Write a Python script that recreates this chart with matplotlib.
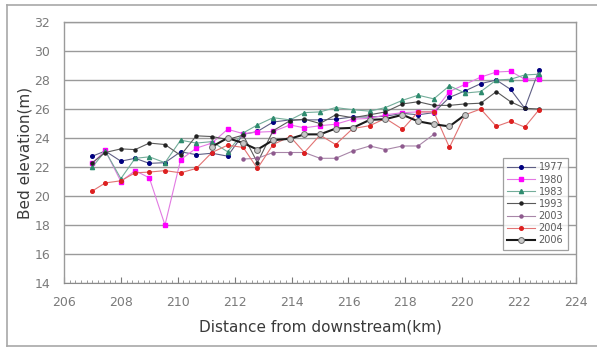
import matplotlib
matplotlib.use("Agg")
import matplotlib.pyplot as plt
from matplotlib.ticker import MultipleLocator
from matplotlib.lines import Line2D

# Survey stations (km from downstream)
km = [207.0, 207.45, 208.0, 208.5, 209.0, 209.55, 210.1, 210.65, 211.2, 211.75,
      212.3, 212.8, 213.35, 213.95, 214.45, 215.0, 215.55, 216.15, 216.75, 217.3,
      217.9, 218.45, 219.0, 219.55, 220.1, 220.65, 221.2, 221.7, 222.2, 222.7]

# Bed elevation (m) per survey year
bed_1977 = [22.75, 23.1, 22.4, 22.6, 22.25, 22.3, 23.05, 22.85, 22.95, 22.75,
            24.25, 24.45, 25.1, 25.25, 25.25, 25.25, 25.3, 25.45, 25.45, 25.5,
            25.7, 25.6, 25.75, 26.8, 27.25, 27.75, 28.0, 27.35, 26.05, 28.7]
bed_1980 = [22.25, 23.15, 21.0, 21.75, 21.25, 18.0, 22.5, 23.3, 23.65, 24.6,
            24.3, 24.4, 24.45, 24.9, 24.7, 24.85, 24.95, 25.3, 25.35, 25.6,
            25.75, 25.8, 25.8, 27.2, 27.7, 28.2, 28.55, 28.6, 28.05, 28.1]
bed_1983 = [22.0, 23.1, 21.2, 22.6, 22.7, 22.3, 23.85, 23.65, 23.75, 23.05,
            24.35, 24.9, 25.4, 25.25, 25.75, 25.8, 26.1, 25.95, 25.85, 26.1,
            26.6, 26.95, 26.7, 27.6, 27.1, 27.2, 28.0, 28.05, 28.35, 28.4]
bed_1993 = [22.3, 23.0, 23.25, 23.2, 23.65, 23.55, 22.8, 24.15, 24.1, 23.9,
            24.2, 22.3, 24.5, 25.2, 25.3, 25.0, 25.6, 25.4, 25.6, 25.8,
            26.35, 26.5, 26.25, 26.25, 26.35, 26.4, 27.2, 26.5, 26.05, 26.0]
bed_2003 = [None, None, None, None, None, None, None, None, None, None,
            22.55, 22.6, 23.0, 23.0, 23.0, 22.6, 22.6, 23.1, 23.45, 23.2,
            23.45, 23.45, 24.25, None, None, None, None, None, None, None]
bed_2004 = [20.35, 20.9, 21.05, 21.6, 21.65, 21.75, 21.6, 21.9, 23.0, 23.5,
            23.35, 21.9, 23.55, 24.1, 23.0, 24.2, 23.55, 24.65, 24.85, 25.35,
            24.6, 25.8, 25.8, 23.35, 25.6, 26.0, 24.8, 25.15, 24.75, 25.95]
bed_2006 = [None, None, None, None, None, None, None, None, 23.4, 24.0,
            23.65, 23.2, 23.85, 23.95, 24.25, 24.25, 24.65, 24.7, 25.25, 25.3,
            25.6, 25.15, 24.95, 24.8, 25.6, None, None, None, None, None]

years = ["1977", "1980", "1983", "1993", "2003", "2004", "2006"]
series = [bed_1977, bed_1980, bed_1983, bed_1993, bed_2003, bed_2004, bed_2006]

styles = {
    "1977": dict(color="#5f5f85", lw=0.8, marker="o", ms=2.6, mfc="#000080", mec="#000080"),
    "1980": dict(color="#e27ae2", lw=0.8, marker="s", ms=3.0, mfc="#ff00ff", mec="#ff00ff"),
    "1983": dict(color="#74ad9a", lw=0.8, marker="^", ms=3.0, mfc="#2e8b6e", mec="#2e8b6e"),
    "1993": dict(color="#5a5a5a", lw=0.8, marker="o", ms=2.2, mfc="#222222", mec="#222222"),
    "2003": dict(color="#a886a8", lw=0.8, marker="o", ms=2.2, mfc="#8e5a8e", mec="#8e5a8e"),
    "2004": dict(color="#e27373", lw=0.8, marker="o", ms=2.6, mfc="#dd2020", mec="#dd2020"),
    "2006": dict(color="#1a1a1a", lw=1.5, marker="o", ms=4.2, mfc="#c8c8c8", mec="#666666", mew=0.7),
}

fig = plt.figure(figsize=(5.97, 3.49), dpi=100)
fig.patch.set_facecolor("white")

# outer frame
frame_c = "#a8a8a8"
fig.add_artist(Line2D([7/597, 1.0], [1 - 5/349, 1 - 5/349], color=frame_c, lw=1.2, transform=fig.transFigure))
fig.add_artist(Line2D([7/597, 7/597], [1 - 5/349, 1 - 346/349], color=frame_c, lw=1.2, transform=fig.transFigure))
fig.add_artist(Line2D([7/597, 1.0], [1 - 346/349, 1 - 346/349], color=frame_c, lw=1.2, transform=fig.transFigure))

ax = fig.add_axes([64/597, 1 - 283/349, (576 - 64)/597, (283 - 22)/349])

for yr, ys in zip(years, series):
    xs = [x for x, y in zip(km, ys) if y is not None]
    vs = [y for y in ys if y is not None]
    ax.plot(xs, vs, label=yr, zorder=3 if yr != "2006" else 4, **styles[yr])

ax.set_xlim(206, 224)
ax.set_ylim(14, 32)
ax.xaxis.set_major_locator(MultipleLocator(2))
ax.xaxis.set_minor_locator(MultipleLocator(0.2))
ax.yaxis.set_major_locator(MultipleLocator(2))

ax.grid(axis="y", color="#9a9a9a", lw=1.0)
ax.set_axisbelow(True)
for side in ["left", "right", "top"]:
    ax.spines[side].set_color("#9a9a9a")
    ax.spines[side].set_linewidth(1.0)
ax.spines["bottom"].set_color("#8a8a8a")
ax.spines["bottom"].set_linewidth(0.8)

ax.tick_params(axis="x", which="major", direction="in", length=4, color="#7a7a7a",
               labelsize=9, labelcolor="#7a7a7a", pad=9)
ax.tick_params(axis="x", which="minor", direction="in", length=2, color="#8a8a8a")
ax.tick_params(axis="y", which="major", length=0, labelsize=9, labelcolor="#7a7a7a", pad=10)

ax.set_xlabel("Distance from downstream(km)", fontsize=11, color="#3a3a3a", labelpad=8)
ax.set_ylabel("Bed elevation(m)", fontsize=11, color="#3a3a3a", labelpad=1)

leg = ax.legend(loc="upper left", bbox_to_anchor=((503 - 64)/512, (283 - 158)/261),
                fontsize=7, frameon=True, fancybox=False, edgecolor="#888888",
                handlelength=2.8, handletextpad=0.4, labelspacing=0.22,
                borderpad=0.45, borderaxespad=0)
leg.get_frame().set_linewidth(0.9)
for t in leg.get_texts():
    t.set_color("#5a5a5a")

fig.savefig("out.png", dpi=100)
